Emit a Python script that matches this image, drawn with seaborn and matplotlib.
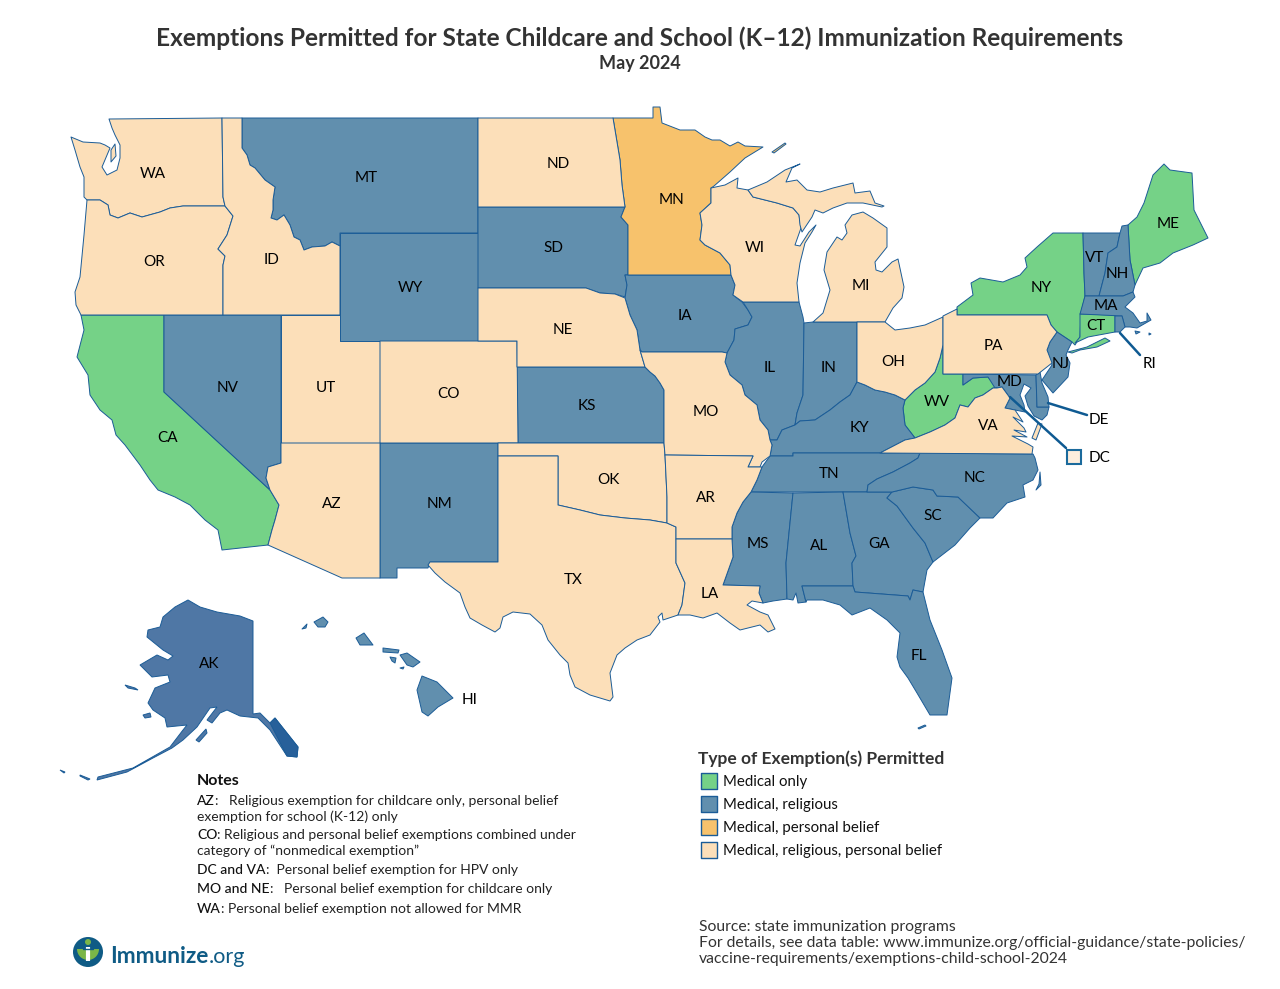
import matplotlib
matplotlib.use("Agg")
import matplotlib.pyplot as plt
import pandas as pd
import seaborn as sns
from matplotlib.patches import Circle, Wedge

# exemption groups
categories = ["Medical only", "Medical, religious", "Medical, personal belief",
              "Medical, religious, personal belief"]
colors = ["#75d287", "#618fae", "#f7c26c", "#fcdfb9"]
medical_only = ["CA", "WV", "NY", "CT", "ME"]
medical_religious = ["NV", "MT", "WY", "SD", "KS", "NM", "IA", "IL", "IN", "KY", "TN", "MS", "AL",
                     "GA", "FL", "SC", "NC", "VT", "NH", "MA", "RI", "NJ", "MD", "DE", "HI"]
medical_belief = ["MN"]
all_three = ["WA", "OR", "ID", "UT", "CO", "AZ", "ND", "NE", "OK", "TX", "MO", "AR", "LA", "WI",
             "MI", "OH", "PA", "VA"]

# state outlines (there is no map data offline)
WA = [(109,119),(222,118),(223,197),(225,206),(183,206),(170,208),(160,212),(142,217),(130,213),(118,218),(110,215),(108,205),(100,200),(87,200),(84,197),(84,177),(80,167),(75,150),(71,137),(83,142),(100,143),(105,145),(110,148),(102,167),(107,175),(117,170),(120,158),(120,145),(115,135),(112,128)]
WA_ISLAND = [(111,150),(115,144),(116,156),(111,162)]
OR = [(87,200),(100,200),(108,205),(110,215),(118,218),(130,213),(142,217),(160,212),(170,208),(183,206),(225,206),(233,216),(227,235),(218,249),(225,256),(223,265),(223,315),(81,315),(76,305),(75,292),(80,277),(84,235)]
ID = [(222,118),(242,118),(242,148),(247,155),(250,165),(255,168),(265,180),(275,187),(273,200),(273,210),(271,218),(277,220),(284,215),(290,225),(294,237),(300,240),(304,250),(312,247),(325,246),(332,242),(340,246),(340,315),(223,315),(223,265),(225,256),(218,249),(227,235),(233,216),(225,206),(223,197)]
MT = [(242,118),(478,118),(478,233),(340,233),(340,246),(332,242),(325,246),(312,247),(304,250),(300,240),(294,237),(290,225),(284,215),(277,220),(271,218),(273,210),(273,200),(275,187),(265,180),(255,168),(250,165),(247,155),(242,148)]
WY = [(340,233),(478,233),(478,341),(340,341)]
UT = [(281,315),(340,315),(340,341),(380,341),(380,443),(281,443)]
CO = [(380,341),(517,341),(518,443),(380,443)]
NV = [(164,315),(281,315),(281,463),(268,467),(266,478),(270,490),(164,392)]
AZ = [(281,443),(380,443),(380,578),(342,578),(268,545),(272,530),(275,520),(279,505),(270,490),(266,478),(268,467),(281,463)]
NM = [(380,443),(498,443),(498,562),(430,562),(428,568),(397,568),(397,578),(380,578)]
CA = [(81,315),(164,315),(164,392),(270,490),(279,505),(275,520),(272,530),(268,545),(222,550),(218,530),(205,520),(190,505),(175,497),(158,490),(150,480),(140,465),(125,445),(116,435),(112,420),(100,410),(90,395),(88,375),(77,357),(84,330)]
ND = [(478,118),(613,118),(620,160),(622,185),(625,207),(478,207)]
SD = [(478,207),(625,207),(621,217),(628,225),(628,275),(625,275),(627,285),(625,297),(615,294),(600,293),(586,288),(478,288)]
NE = [(478,288),(586,288),(600,293),(615,294),(625,298),(630,315),(637,330),(640,350),(645,367),(517,367),(517,341),(478,341)]
KS = [(517,367),(645,367),(650,372),(655,376),(660,383),(664,390),(664,443),(518,443)]
OK = [(498,443),(664,443),(665,455),(667,497),(667,523),(650,520),(625,518),(600,515),(580,510),(558,505),(558,456),(498,456)]
TX = [(498,456),(558,456),(558,505),(580,510),(600,515),(625,518),(650,520),(667,523),(676,527),(676,539),(676,563),(685,583),(682,605),(678,615),(663,620),(662,613),(658,617),(660,622),(650,635),(637,640),(625,648),(617,655),(610,673),(613,697),(610,701),(590,695),(575,687),(570,675),(568,663),(560,655),(548,640),(542,625),(530,614),(513,612),(503,617),(500,628),(495,632),(482,625),(470,618),(465,607),(460,593),(445,582),(435,573),(428,565),(430,562),(498,562)]
MN = [(613,118),(653,118),(653,107),(660,107),(662,123),(680,130),(695,130),(705,137),(712,140),(720,140),(730,146),(738,142),(745,146),(763,147),(745,158),(730,172),(714,186),(711,188),(711,203),(700,213),(702,225),(700,240),(705,245),(720,253),(730,265),(731,275),(628,275),(628,225),(621,217),(625,207),(622,185),(620,160)]
IA = [(628,275),(731,275),(735,285),(733,295),(742,302),(748,310),(752,317),(748,325),(735,329),(734,340),(727,353),(722,352),(642,352),(640,350),(637,330),(630,315),(625,298),(627,285),(625,275)]
MO = [(642,352),(722,352),(727,353),(725,362),(730,375),(742,385),(745,395),(757,405),(760,420),(768,430),(770,440),(772,445),(770,456),(762,462),(760,467),(748,467),(753,456),(665,455),(664,443),(664,390),(660,383),(655,376),(650,372),(645,367),(640,350)]
AR = [(665,455),(753,456),(748,467),(762,467),(757,480),(751,492),(743,502),(737,513),(732,527),(732,539),(676,539),(676,527),(667,523),(667,497)]
LA = [(676,539),(732,539),(733,557),(723,585),(760,586),(759,593),(763,603),(752,601),(747,605),(760,612),(768,615),(775,629),(768,632),(760,625),(740,630),(730,623),(717,613),(703,618),(690,615),(678,615),(682,605),(685,583),(676,563)]
WI = [(711,188),(725,185),(738,178),(737,188),(748,190),(753,197),(777,203),(793,208),(799,215),(801,228),(795,245),(800,246),(809,232),(816,225),(812,232),(805,243),(800,263),(797,283),(799,302),(743,302),(733,295),(735,285),(731,275),(730,265),(720,253),(705,245),(700,240),(702,225),(700,213),(711,203)]
MI_UPPER = [(748,190),(767,182),(785,170),(800,164),(792,168),(786,182),(797,180),(807,190),(820,192),(833,188),(853,183),(855,193),(870,191),(875,203),(884,206),(882,207),(863,203),(847,203),(833,208),(823,213),(815,210),(812,217),(802,232),(800,225),(799,215),(793,208),(777,203),(753,197)]
MI = [(852,215),(863,212),(873,218),(887,228),(887,247),(875,262),(876,270),(882,272),(892,262),(898,259),(904,287),(902,298),(893,308),(885,322),(813,322),(823,313),(830,290),(824,270),(827,252),(837,237),(842,240),(847,233),(845,225)]
IL = [(743,302),(799,302),(803,317),(804,323),(803,395),(797,413),(795,425),(782,430),(777,440),(770,440),(768,430),(760,420),(757,405),(745,395),(742,385),(730,375),(725,362),(727,353),(734,340),(735,329),(748,325),(752,317),(748,310)]
IN = [(804,323),(813,322),(857,322),(857,382),(850,395),(840,402),(830,410),(815,420),(800,421),(795,425),(797,413),(803,395)]
OH = [(857,322),(885,322),(895,330),(910,328),(925,325),(943,317),(943,345),(940,358),(935,372),(925,383),(915,390),(905,400),(895,395),(885,392),(875,390),(865,385),(857,382)]
KY = [(770,440),(777,440),(782,430),(795,425),(800,421),(815,420),(830,410),(840,402),(850,395),(857,382),(865,385),(875,390),(885,392),(895,395),(905,400),(903,408),(905,425),(915,438),(905,440),(880,453),(793,453),(793,456),(770,456),(772,445)]
TN = [(751,492),(757,480),(762,467),(770,456),(793,456),(793,453),(880,453),(920,453),(918,458),(910,463),(893,472),(877,479),(868,485),(867,492)]
MS = [(751,492),(793,493),(786,563),(787,599),(773,601),(763,603),(759,593),(760,586),(723,585),(733,557),(732,539),(732,527),(737,513),(743,502)]
AL = [(793,493),(843,492),(850,533),(856,556),(852,563),(853,586),(802,586),(806,602),(798,603),(796,593),(793,600),(787,599),(786,563)]
GA = [(843,492),(892,492),(887,498),(897,506),(913,528),(925,543),(933,562),(927,570),(923,592),(913,590),(910,600),(908,596),(855,592),(853,586),(852,563),(856,556),(850,533)]
FL = [(802,586),(853,586),(855,592),(908,596),(910,600),(913,590),(923,592),(930,620),(942,650),(952,678),(947,715),(930,715),(917,693),(908,678),(900,667),(897,657),(900,633),(887,620),(870,608),(852,615),(840,605),(823,600),(807,600),(806,602)]
SC = [(892,492),(913,487),(933,490),(937,496),(958,497),(980,518),(970,528),(955,545),(933,562),(925,543),(913,528),(897,506),(887,498)]
NC = [(920,453),(1033,454),(1035,458),(1038,470),(1033,480),(1023,485),(1025,497),(1007,503),(993,518),(980,518),(958,497),(937,496),(933,490),(913,487),(892,492),(867,492),(868,485),(877,479),(893,472),(910,463),(918,458)]
VA = [(997,388),(1002,387),(1010,398),(1005,408),(1015,410),(1023,422),(1013,417),(1024,428),(1026,432),(1014,430),(1027,437),(1012,436),(1028,444),(1033,447),(1032,454),(880,453),(905,440),(915,438),(930,432),(945,425),(955,418),(960,405),(968,407),(975,398),(983,395),(993,388)]
VA_SHORE = [(1038,423),(1042,424),(1036,440),(1032,438)]
WV = [(943,345),(943,374),(963,374),(963,385),(973,378),(988,377),(995,385),(997,388),(993,388),(983,395),(975,398),(968,407),(960,405),(955,418),(945,425),(930,432),(915,438),(905,425),(903,408),(905,400),(915,390),(925,383),(935,372),(940,358)]
PA = [(943,316),(957,309),(957,315),(1047,315),(1051,325),(1057,332),(1050,342),(1047,350),(1052,363),(1038,374),(943,374)]
NY = [(957,315),(957,307),(973,295),(971,283),(980,278),(1003,282),(1020,275),(1027,267),(1025,258),(1037,247),(1053,233),(1083,233),(1084,273),(1085,296),(1081,313),(1080,337),(1075,345),(1072,342),(1057,332),(1051,325),(1047,315)]
NY_ISLAND = [(1068,352),(1087,347),(1105,338),(1110,341),(1097,347),(1080,350),(1072,353)]
VT = [(1083,233),(1120,233),(1117,247),(1108,253),(1105,273),(1099,296),(1085,296),(1084,273)]
NH = [(1120,233),(1122,226),(1128,225),(1130,260),(1135,285),(1133,292),(1123,296),(1099,296),(1105,273),(1108,253),(1117,247)]
ME = [(1128,225),(1137,217),(1144,203),(1153,175),(1164,164),(1170,170),(1192,173),(1194,210),(1200,222),(1208,238),(1193,245),(1173,253),(1160,263),(1143,268),(1135,285),(1130,260)]
MA = [(1085,296),(1099,296),(1123,296),(1133,292),(1135,297),(1125,307),(1133,313),(1140,323),(1147,321),(1147,313),(1151,320),(1137,328),(1130,327),(1125,327),(1122,316),(1080,314)]
MA_VINEYARD = [(1135,331),(1140,332),(1136,334)]
MA_NANTUCKET = [(1149,333),(1151,334),(1149,335)]
CT = [(1080,314),(1115,315),(1115,332),(1088,337),(1075,343),(1080,337)]
RI = [(1115,316),(1122,316),(1125,327),(1120,332),(1115,332)]
NJ = [(1057,332),(1072,342),(1068,350),(1066,355),(1070,363),(1068,377),(1053,393),(1042,380),(1052,365),(1047,350),(1050,342)]
DE = [(1040,372),(1036,375),(1037,407),(1049,407),(1048,397),(1042,383)]
MD = [(963,374),(1036,375),(1037,407),(1049,407),(1047,415),(1042,420),(1034,416),(1028,406),(1025,396),(1031,388),(1024,384),(1020,395),(1024,405),(1025,412),(1015,410),(1005,408),(1010,398),(1002,387),(995,388),(988,377),(973,378),(963,385)]
MN_ISLAND = [(772,152),(785,143),(786,144),(774,153)]
FL_KEYS = [(918,728),(925,725),(926,726),(919,729)]
NC_BANKS = [(1040,472),(1041,485),(1036,490),(1039,484)]
AK = [(253,621),(253,714),(260,713),(270,723),(275,718),(298,747),(297,757),(287,756),(270,730),(258,718),(240,716),(227,710),(220,713),(212,723),(207,720),(217,707),(210,708),(197,727),(183,740),(172,748),(153,758),(127,772),(97,780),(98,777),(133,768),(170,747),(183,730),(187,725),(167,727),(165,718),(153,710),(148,703),(155,688),(170,682),(168,675),(152,677),(140,665),(157,655),(168,660),(173,656),(163,650),(147,637),(148,630),(160,627),(163,617),(175,607),(188,600),(200,607),(217,612),(240,616)]
AK_SOUTHEAST = [(270,723),(275,718),(298,747),(297,757),(287,756)]
AK_ST_LAWRENCE = [(125,685),(135,688),(138,690),(128,688)]
AK_NUNIVAK = [(143,715),(150,713),(151,717),(145,718)]
AK_KODIAK = [(196,740),(206,729),(207,733),(199,742)]
AK_ALEUTIAN = [(80,775),(90,779),(88,780),(80,776)]
AK_ATTU = [(60,770),(65,772),(64,773)]
HI = [(422,676),(437,682),(453,698),(438,707),(428,716),(422,712),(417,690)]
HI_MAUI = [(400,655),(407,653),(420,662),(413,667),(407,665)]
HI_MOLOKAI = [(383,648),(399,650),(398,653),(383,652)]
HI_LANAI = [(390,657),(396,658),(395,663),(392,661)]
HI_KAHOOLAWE = [(400,668),(404,667),(403,669)]
HI_OAHU = [(356,638),(364,633),(373,645),(360,645)]
HI_KAUAI = [(314,622),(323,617),(328,622),(325,627),(318,627)]
HI_NIIHAU = [(302,629),(307,624),(306,628)]

label_states = ["WA","OR","CA","NV","ID","MT","WY","UT","CO","AZ","NM","ND","SD","NE","KS","OK","TX","MN","IA","MO","AR","LA","WI","IL","IN","MI","OH","KY","TN","MS","AL","GA","FL","SC","NC","VA","WV","PA","NY","ME","VT","NH","MA","CT","NJ","MD","RI","DE","DC","AK","HI"]
label_x = [153,154,168,228,272,366,410,326,449,332,439,558,553,563,587,608,573,671,685,706,706,710,755,770,829,861,893,859,829,758,819,879,919,933,975,988,937,993,1041,1168,1095,1117,1106,1096,1061,1010,1149,1099,1100,209,470]
label_y = [173,261,436,386,258,176,287,386,392,503,503,162,247,328,405,478,579,198,314,411,497,592,247,366,367,285,361,426,472,543,544,543,655,514,476,424,401,344,287,222,257,273,305,324,363,380,362,419,456,663,699]

title = "Exemptions Permitted for State Childcare and School (K\u201312) Immunization Requirements"
subtitle = "May 2024"
legend_title = "Type of Exemption(s) Permitted"
notes_head = "Notes"
notes_bold = ["AZ", "", "CO", "", "DC and VA", "MO and NE", "WA"]
notes_text = [":   Religious exemption for childcare only, personal belief",
              "exemption for school (K-12) only",
              ": Religious and personal belief exemptions combined under",
              "category of \u201cnonmedical exemption\u201d",
              ":  Personal belief exemption for HPV only",
              ":   Personal belief exemption for childcare only",
              ": Personal belief exemption not allowed for MMR"]
notes_y = [800, 816, 834, 850, 869, 888, 908]
source_lines = ["Source: state immunization programs",
                "For details, see data table: www.immunize.org/official-guidance/state-policies/",
                "vaccine-requirements/exemptions-child-school-2024"]
source_y = [926, 942, 958]

sns.set_theme(style="white")
plt.rcParams["font.family"] = ["Lato", "DejaVu Sans"]
palette = dict(zip(categories, sns.color_palette(colors)))
EDGE = "#1b5c97"

fig = plt.figure(figsize=(12.8, 9.89), dpi=100)
ax = fig.add_axes([0, 0, 1, 1])

groups = [medical_only, medical_religious, medical_belief, all_three]
state_cat = {s: c for c, g in zip(categories, groups) for s in g}

extra_parts = {
    "WA": [WA_ISLAND], "MI": [MI_UPPER], "VA": [VA_SHORE], "NY": [NY_ISLAND], "MN": [MN_ISLAND],
    "FL": [FL_KEYS], "NC": [NC_BANKS], "MA": [MA_VINEYARD, MA_NANTUCKET],
    "HI": [HI_MAUI, HI_MOLOKAI, HI_LANAI, HI_KAHOOLAWE, HI_OAHU, HI_KAUAI, HI_NIIHAU],
}

for state, cat in state_cat.items():
    parts = [globals()[state]] + extra_parts.get(state, [])
    for part in parts:
        xs, ys = zip(*part)
        ax.fill(xs, ys, facecolor=palette[cat], edgecolor=EDGE, linewidth=0.7, joinstyle="round")

# Alaska is a bit darker than the other religious states
for part in [AK, AK_ST_LAWRENCE, AK_NUNIVAK, AK_KODIAK, AK_ALEUTIAN, AK_ATTU]:
    xs, ys = zip(*part)
    ax.fill(xs, ys, facecolor="#4f77a5", edgecolor=EDGE, linewidth=0.7)
xs, ys = zip(*AK_SOUTHEAST)
ax.fill(xs, ys, facecolor="#27609a", edgecolor=EDGE, linewidth=0.7)

# leader lines for the small states
ax.plot([1120, 1140], [333, 355], color="#0f5a92", lw=1.8)
ax.plot([1048, 1087], [403, 415], color="#0f5a92", lw=1.8)
ax.plot([1010, 1066], [397, 448], color="#0f5a92", lw=1.8)
ax.add_patch(plt.Rectangle((1067, 450), 14, 13.5, facecolor="#fdeedd", edgecolor="#1b6a9c", lw=1.5))

for s, x, y in zip(label_states, label_x, label_y):
    ax.text(x, y + 1.5, s, ha="center", va="center", fontsize=11, color="black")

# titles
ax.text(640, 38, title, ha="center", va="center", fontsize=17.6, fontweight="bold", color="#333333")
ax.text(640, 63, subtitle, ha="center", va="center", fontsize=13, fontweight="bold", color="#333333")

# legend
legend_df = pd.DataFrame({"x": [709] * 4, "y": [781, 804, 827, 850], "cat": categories})
sns.scatterplot(data=legend_df, x="x", y="y", hue="cat", palette=palette, marker="s", s=135,
                edgecolor=EDGE, linewidth=1.0, legend=False, ax=ax)
ax.set_xlim(0, 1280)
ax.set_ylim(989, 0)
ax.axis("off")
ax.text(698, 759, legend_title, va="center", fontsize=12.5, fontweight="bold", color="#333333")
for cat, y in zip(categories, legend_df["y"]):
    ax.text(723, y + 1, cat, va="center", fontsize=10.8, color="#111111")

# notes, bold prefix then the rest of the line
renderer = fig.canvas.get_renderer()
ax.text(197, 781, notes_head, va="center", fontsize=11.5, fontweight="bold", color="#111111")
for prefix, rest, y in zip(notes_bold, notes_text, notes_y):
    x = 197
    if prefix:
        t = ax.text(x, y + 5, prefix, va="baseline", fontsize=10.0, fontweight="medium", color="#111111")
        x = t.get_window_extent(renderer).x1
    ax.text(x, y + 5, rest, va="baseline", fontsize=10.0, color="#222222")

for line, y in zip(source_lines, source_y):
    ax.text(699, y + 1, line, va="center", fontsize=11.3, color="#333333")

# logo (y axis is flipped, so 0-180 is the lower half of the shield)
ax.add_patch(Circle((88, 952), 15, facecolor="#0f5b85", edgecolor="none"))
ax.add_patch(Wedge((88, 949), 11, 0, 180, facecolor="#7ab648", edgecolor="none"))
ax.plot([88, 88], [947, 961], color="white", lw=3.0, solid_capstyle="butt")
ax.plot([83, 93], [949, 949], color="#0f5b85", lw=1.0)
ax.add_patch(Circle((88, 942), 3, facecolor="#7ab648", edgecolor="none"))
logo = ax.text(110, 963, "Immunize", va="baseline", fontsize=16.3, fontweight="bold", color="#0f5b85")
x = logo.get_window_extent(renderer).x1
ax.text(x, 963, ".org", va="baseline", fontsize=15.5, color="#0f5b85")

fig.savefig("out.png", dpi=100)
